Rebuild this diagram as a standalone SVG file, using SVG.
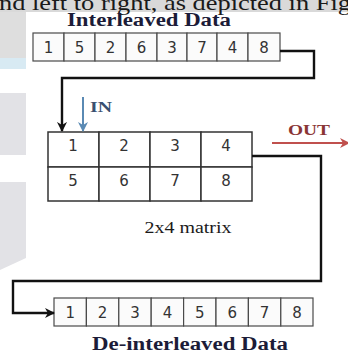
<svg xmlns="http://www.w3.org/2000/svg" width="348" height="352" viewBox="0 0 348 352">
  <style>
    .page { font-family: "Liberation Serif", "Times New Roman", serif; }
    .head { font-family: "Liberation Serif", "Times New Roman", serif; font-weight: bold; font-size: 18px; fill: #1c1c38; }
    .cell { fill: #fbfbfb; stroke: #4a4a4a; stroke-width: 1.2; }
    .mcell { fill: #ffffff; stroke: #333333; stroke-width: 1.5; }
    .num { font-family: "DejaVu Sans", Verdana, sans-serif; font-size: 15px; fill: #333333; text-anchor: middle; }
    .wire { fill: none; stroke: #111111; stroke-width: 2.4; stroke-linejoin: miter; }
  </style>
  <defs>
    <marker id="arrBlack" viewBox="0 0 10 10" refX="9" refY="5" markerWidth="4.2" markerHeight="4.2" orient="auto" markerUnits="strokeWidth">
      <path d="M0,0 L10,5 L0,10 L3,5 Z" fill="#111111"/>
    </marker>
    <marker id="arrBlue" viewBox="0 0 10 10" refX="9" refY="5" markerWidth="5" markerHeight="5" orient="auto" markerUnits="strokeWidth">
      <path d="M0,0 L10,5 L0,10 L3,5 Z" fill="#5a8ab4"/>
    </marker>
    <marker id="arrRed" viewBox="0 0 10 10" refX="9" refY="5" markerWidth="5" markerHeight="5" orient="auto" markerUnits="strokeWidth">
      <path d="M0,0 L10,5 L0,10 L3,5 Z" fill="#c0504d"/>
    </marker>
  </defs>

  <!-- page background -->
  <rect x="0" y="0" width="348" height="352" fill="#ffffff"/>
  <rect x="0" y="0" width="348" height="12" fill="#d9d9d9"/>
  <rect x="0" y="12" width="26" height="46" fill="#dedede"/>
  <rect x="0" y="58" width="26" height="11" fill="#d8eaf3"/>
  <rect x="0" y="93" width="26" height="62" fill="#e2e2e6"/>
  <polygon points="0,182 26,182 26,258 0,270" fill="#e2e2e6"/>
  <text class="page" x="-1" y="9.5" font-size="22" fill="#1a1a1a" textLength="352" lengthAdjust="spacingAndGlyphs">nd left to right, as depicted in Fig</text>

  <!-- interleaved input sequence -->
  <g id="interleaved-data">
    <text class="head" x="149" y="25.5" text-anchor="middle" textLength="164" lengthAdjust="spacingAndGlyphs">Interleaved Data</text>
    <rect class="cell" x="33" y="33" width="31" height="28"/>
    <rect class="cell" x="64" y="33" width="31" height="28"/>
    <rect class="cell" x="95" y="33" width="31" height="28"/>
    <rect class="cell" x="126" y="33" width="31" height="28"/>
    <rect class="cell" x="157" y="33" width="30" height="28"/>
    <rect class="cell" x="187" y="33" width="30" height="28"/>
    <rect class="cell" x="217" y="33" width="31" height="28"/>
    <rect class="cell" x="248" y="33" width="32" height="28"/>
    <text class="num" x="48.5" y="52.5">1</text>
    <text class="num" x="79.5" y="52.5">5</text>
    <text class="num" x="110.5" y="52.5">2</text>
    <text class="num" x="141.5" y="52.5">6</text>
    <text class="num" x="172" y="52.5">3</text>
    <text class="num" x="202" y="52.5">7</text>
    <text class="num" x="232.5" y="52.5">4</text>
    <text class="num" x="264" y="52.5">8</text>
  </g>

  <!-- 2x4 matrix -->
  <g id="matrix">
    <rect class="mcell" x="48" y="132" width="51" height="35"/>
    <rect class="mcell" x="99" y="132" width="51" height="35"/>
    <rect class="mcell" x="150" y="132" width="51" height="35"/>
    <rect class="mcell" x="201" y="132" width="51" height="35"/>
    <rect class="mcell" x="48" y="167" width="51" height="34"/>
    <rect class="mcell" x="99" y="167" width="51" height="34"/>
    <rect class="mcell" x="150" y="167" width="51" height="34"/>
    <rect class="mcell" x="201" y="167" width="51" height="34"/>
    <text class="num" x="73" y="150.5">1</text>
    <text class="num" x="124" y="150.5">2</text>
    <text class="num" x="175" y="150.5">3</text>
    <text class="num" x="226" y="150.5">4</text>
    <text class="num" x="73" y="185.5">5</text>
    <text class="num" x="124" y="185.5">6</text>
    <text class="num" x="175" y="185.5">7</text>
    <text class="num" x="226" y="185.5">8</text>
    <text class="page" x="188" y="232.5" font-size="16" fill="#1a1a1a" text-anchor="middle" textLength="87" lengthAdjust="spacingAndGlyphs">2x4 matrix</text>
  </g>

  <!-- write / read labels -->
  <g id="in-label">
    <text class="page" x="90" y="112" font-size="15" font-weight="bold" fill="#3a5070" textLength="22" lengthAdjust="spacingAndGlyphs">IN</text>
  </g>
  <g id="out-label">
    <text class="page" x="288" y="135" font-size="15" font-weight="bold" fill="#8a3535" textLength="42" lengthAdjust="spacingAndGlyphs">OUT</text>
  </g>

  <!-- de-interleaved output sequence -->
  <g id="deinterleaved-data">
    <rect class="cell" x="54" y="298" width="32.4" height="28"/>
    <rect class="cell" x="86.4" y="298" width="32.4" height="28"/>
    <rect class="cell" x="118.8" y="298" width="32.4" height="28"/>
    <rect class="cell" x="151.2" y="298" width="32.4" height="28"/>
    <rect class="cell" x="183.6" y="298" width="32.4" height="28"/>
    <rect class="cell" x="216" y="298" width="32.4" height="28"/>
    <rect class="cell" x="248.4" y="298" width="32.4" height="28"/>
    <rect class="cell" x="280.8" y="298" width="32.2" height="28"/>
    <text class="num" x="70.2" y="317.5">1</text>
    <text class="num" x="102.6" y="317.5">2</text>
    <text class="num" x="135" y="317.5">3</text>
    <text class="num" x="167.4" y="317.5">4</text>
    <text class="num" x="199.8" y="317.5">5</text>
    <text class="num" x="232.2" y="317.5">6</text>
    <text class="num" x="264.6" y="317.5">7</text>
    <text class="num" x="297" y="317.5">8</text>
    <text class="head" x="190" y="350" text-anchor="middle" textLength="196" lengthAdjust="spacingAndGlyphs">De-interleaved Data</text>
  </g>

  <!-- connectors -->
  <g id="connectors">
    <path class="wire" d="M280,51 H314 V78 H62 V131" marker-end="url(#arrBlack)"/>
    <path class="wire" d="M252,156 H321 V281 H13 V313 H54" marker-end="url(#arrBlack)"/>
    <path d="M83,97 V131" fill="none" stroke="#5a8ab4" stroke-width="2" marker-end="url(#arrBlue)"/>
    <path d="M272,143 H349" fill="none" stroke="#c0504d" stroke-width="2" marker-end="url(#arrRed)"/>
  </g>
</svg>
